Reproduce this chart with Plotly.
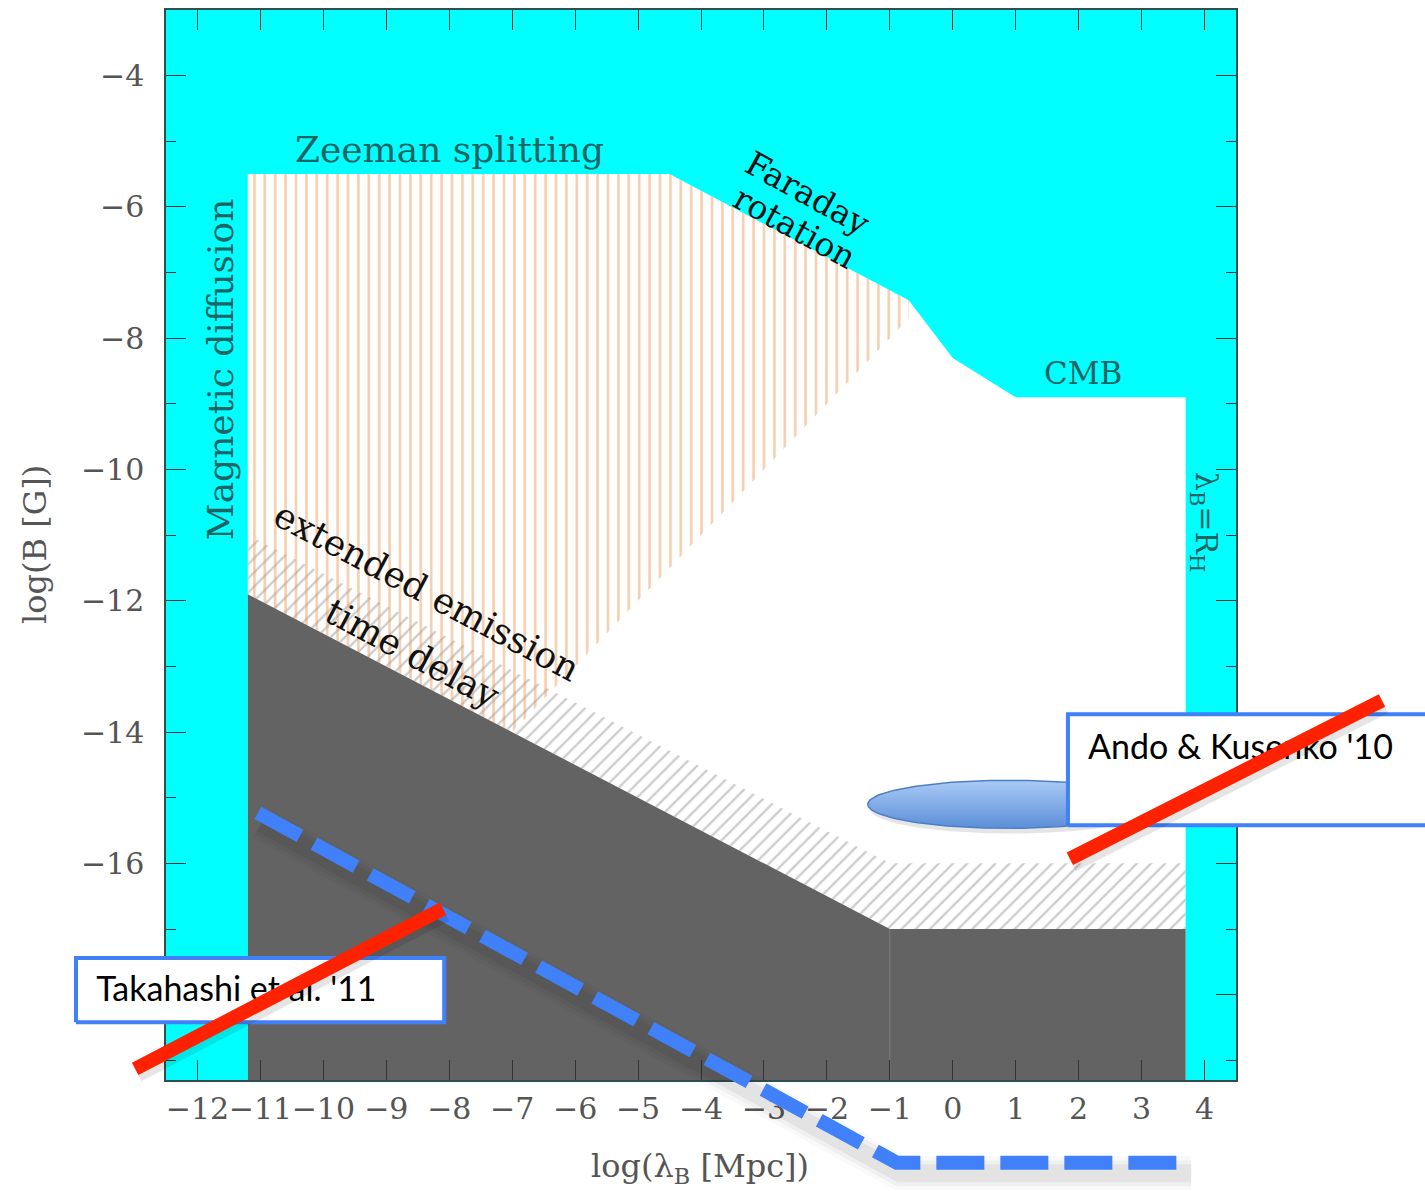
import numpy as np
import plotly.graph_objects as go

W, H = 1425, 1191

# ---- axis windows ----------------------------------------------------------
X_RANGE = [-12.5, 4.5]
Y_RANGE = [-19.3, -3.0]
X_DOMAIN = [166 / W, 1236 / W]
Y_DOMAIN = [(H - 1080) / H, (H - 10) / H]

x_ticks = list(range(-12, 5))
y_ticks = list(range(-18, -3, 2))
# the -18 label sits under the Takahashi box and is left blank
y_tick_labels = ["" if v == -18 else f"\u2212{abs(v)}" for v in y_ticks]

# ---- constraint regions (log lambda_B [Mpc], log B [G]) -----------------
# window left open by diffusion / Zeeman / Faraday / CMB / horizon limits
allowed_x = [-11.2, -11.2, -4.5, -0.7, 0.0, 1.0, 3.7, 3.7]
allowed_y = [-19.3, -5.5, -5.5, -7.42, -8.3, -8.9, -8.9, -19.3]

# region probed by extended emission (vertical orange hatching)
extended_x = [-11.2, -4.5, -0.7, -0.7, -7.0, -11.2]
extended_y = [-5.5, -5.5, -7.42, -7.7, -14.0, -11.9]

# region probed by time delay (grey hatched band)
delay_x = [-11.2, -1.0, 3.7, 3.7, -1.0, -11.2]
delay_y = [-11.0, -16.0, -16.0, -17.0, -17.0, -11.9]

# excluded region below the blazar bound (dark grey)
excluded_x = [-11.2, -11.2, -1.0, 3.7, 3.7]
excluded_y = [-19.3, -11.9, -17.0, -17.0, -19.3]

# ---- literature results drawn on top ---------------------------------------
ando_center = [0.89, -15.10]
ando_radii = [2.24, 0.366]
ando_line_x = [1.86, 6.82]
ando_line_y = [-15.93, -13.52]
ando_box_x = [1.83, 7.74]
ando_box_y = [-15.42, -13.73]
ando_label = "Ando & Kusenko '10"
ando_label_at = [2.15, -14.28]

takahashi_line_x = [-12.99, -8.10]
takahashi_line_y = [-19.13, -16.69]
takahashi_box_x = [-13.93, -8.08]
takahashi_box_y = [-18.42, -17.44]
takahashi_label = "Takahashi et al. '11"
takahashi_label_at = [-13.61, -17.97]

bound_x = [-11.04, -0.89, 3.74]
bound_y = [-15.23, -20.56, -20.56]

CYAN = "#00ffff"
DARK = "#636363"
TEAL = "#1f6464"
BLUE = "#4080f8"
RED = "#ff2200"
SERIF = "DejaVu Serif"
CLEAR = "rgba(0,0,0,0)"


def extend(rng, dom):
    """Range of a full-figure axis sharing the scale of an axis on `dom`."""
    span = (rng[1] - rng[0]) / (dom[1] - dom[0])
    return [rng[0] - dom[0] * span, rng[1] + (1 - dom[1]) * span]


def closed(xs):
    return list(xs) + [xs[0]]


def rect(xr, yr):
    return [xr[0], xr[1], xr[1], xr[0], xr[0]], [yr[0], yr[0], yr[1], yr[1], yr[0]]


fig = go.Figure()

# cyan: excluded by the classic constraints
cx, cy = rect(X_RANGE, Y_RANGE)
fig.add_trace(go.Scatter(x=cx, y=cy, fill="toself", fillcolor=CYAN,
                         mode="lines", line=dict(width=0), hoverinfo="skip"))
fig.add_trace(go.Scatter(x=closed(allowed_x), y=closed(allowed_y), fill="toself",
                         fillcolor="white", mode="lines", line=dict(width=0),
                         hoverinfo="skip"))
fig.add_trace(go.Scatter(x=closed(delay_x), y=closed(delay_y), fill="toself",
                         fillcolor=CLEAR, mode="lines",
                         line=dict(width=0, color=CLEAR), hoverinfo="skip",
                         fillpattern=dict(shape="/", fgcolor="#9c9c9c", bgcolor=CLEAR,
                                          size=10, solidity=0.24)))
fig.add_trace(go.Scatter(x=closed(extended_x), y=closed(extended_y), fill="toself",
                         fillcolor=CLEAR, mode="lines",
                         line=dict(width=0, color=CLEAR), hoverinfo="skip",
                         fillpattern=dict(shape="|", fgcolor="#ec9a58", bgcolor=CLEAR,
                                          size=10.4, solidity=0.24)))
fig.add_trace(go.Scatter(x=closed(excluded_x), y=closed(excluded_y), fill="toself",
                         fillcolor=DARK, mode="lines", line=dict(width=0),
                         hoverinfo="skip"))
fig.add_trace(go.Scatter(x=[excluded_x[2], excluded_x[2]],
                         y=[excluded_y[2], excluded_y[0]], mode="lines",
                         line=dict(color="#7c7c7c", width=1), hoverinfo="skip"))

# ---- overlay layer on a full-figure axis pair ------------------------------
ov = dict(xaxis="x2", yaxis="y2", hoverinfo="skip", showlegend=False)

t = np.linspace(0, 2 * np.pi, 181)
ex = ando_center[0] + ando_radii[0] * np.cos(t)
ey = ando_center[1] + ando_radii[1] * np.sin(t)
fig.add_trace(go.Scatter(x=ex + 0.04, y=ey - 0.08, fill="toself",
                         fillcolor="rgba(0,0,0,0.10)", mode="lines",
                         line=dict(width=0), **ov))
fig.add_trace(go.Scatter(x=ex, y=ey, fill="toself", mode="lines",
                         line=dict(color="#4d7fc4", width=1.5),
                         fillgradient=dict(type="vertical",
                                           colorscale=[[0, "#5b8fd8"], [1, "#abcaf5"]]),
                         **ov))

for bx, by, label, at in [(ando_box_x, ando_box_y, ando_label, ando_label_at),
                          (takahashi_box_x, takahashi_box_y, takahashi_label,
                           takahashi_label_at)]:
    rx, ry = rect(bx, by)
    fig.add_trace(go.Scatter(x=rx, y=ry, fill="toself", fillcolor="white",
                             mode="lines", line=dict(color=BLUE, width=4), **ov))
    fig.add_trace(go.Scatter(x=[at[0]], y=[at[1]], mode="text", text=[label],
                             textposition="middle right", cliponaxis=False,
                             textfont=dict(family="Lato", size=34, color="black"),
                             **ov))

# soft shadow under the dashed bound
for w, a in [(34, 0.025), (26, 0.035), (18, 0.05)]:
    fig.add_trace(go.Scatter(x=[v + 0.05 for v in bound_x],
                             y=[v - 0.16 for v in bound_y], mode="lines",
                             line=dict(color=f"rgba(0,0,0,{a})", width=w), **ov))
fig.add_trace(go.Scatter(x=bound_x, y=bound_y, mode="lines",
                         line=dict(color=BLUE, width=14, dash="48px,16px"), **ov))

for lx, ly in [(takahashi_line_x, takahashi_line_y), (ando_line_x, ando_line_y)]:
    fig.add_trace(go.Scatter(x=[v + 0.04 for v in lx], y=[v - 0.08 for v in ly],
                             mode="lines",
                             line=dict(color="rgba(0,0,0,0.10)", width=16), **ov))
    fig.add_trace(go.Scatter(x=lx, y=ly, mode="lines",
                             line=dict(color=RED, width=14), **ov))


# ---- labels ----------------------------------------------------------------
def note(text, x, y, size, color, angle=0):
    return dict(text=text, x=x, y=y, xref="x", yref="y", showarrow=False,
                textangle=angle, xanchor="center", yanchor="middle",
                font=dict(family=SERIF, size=size, color=color))


annotations = [
    note("Zeeman splitting", -7.99, -5.13, 36, TEAL),
    note("Magnetic diffusion", -11.64, -8.47, 36, TEAL, -90),
    note("CMB", 2.07, -8.53, 31, TEAL),
    note("λ<sub>B</sub>=R<sub>H</sub>", 4.01, -10.80, 30, TEAL, 90),
    note("Faraday", -2.30, -5.79, 33, "#111111", 29),
    note("rotation", -2.51, -6.31, 33, "#111111", 29),
    note("extended emission", -8.36, -11.86, 36, "#111111", 28),
    note("time delay", -8.58, -12.80, 36, "#111111", 28),
    dict(text="log(B [G])", x=35 / W, y=1 - 545 / H, xref="paper", yref="paper",
         xanchor="center", yanchor="middle", showarrow=False, textangle=-90,
         font=dict(family=SERIF, size=32, color="#555555")),
    dict(text="log(λ<sub>B</sub> [Mpc])", x=700 / W, y=1 - 1168 / H,
         xref="paper", yref="paper", xanchor="center", yanchor="middle",
         showarrow=False, font=dict(family=SERIF, size=32, color="#555555")),
]

axis_common = dict(ticks="inside", ticklen=20, tickwidth=1.2, tickcolor="#333333",
                   showline=True, linecolor="#2f4f4f", linewidth=1.5,
                   mirror="ticks", showgrid=False, zeroline=False, tickangle=0,
                   tickfont=dict(family=SERIF, size=30, color="#555555"))

fig.update_layout(
    width=W, height=H,
    margin=dict(l=0, r=0, t=0, b=0),
    paper_bgcolor="white", plot_bgcolor=CLEAR,
    showlegend=False,
    annotations=annotations,
    xaxis=dict(domain=X_DOMAIN, range=X_RANGE, tickvals=x_ticks,
               ticklabelstandoff=1, anchor="y", **axis_common),
    yaxis=dict(domain=Y_DOMAIN, range=Y_RANGE, tickvals=y_ticks,
               ticktext=y_tick_labels, ticklabelstandoff=14, anchor="x",
               minor=dict(dtick=1, tick0=0, ticks="inside", ticklen=10,
                          tickwidth=1.2, tickcolor="#333333"),
               **axis_common),
    xaxis2=dict(domain=[0, 1], range=extend(X_RANGE, X_DOMAIN), visible=False,
                anchor="y2", fixedrange=True),
    yaxis2=dict(domain=[0, 1], range=extend(Y_RANGE, Y_DOMAIN), visible=False,
                anchor="x2", fixedrange=True),
)

fig.write_html("out.html")
